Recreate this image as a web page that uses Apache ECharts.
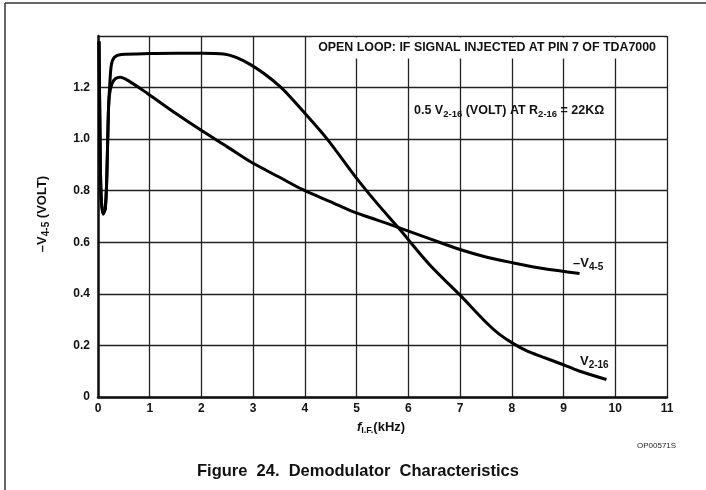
<!DOCTYPE html>
<html>
<head>
<meta charset="utf-8">
<script src="https://cdn.jsdelivr.net/npm/echarts@6/dist/echarts.min.js"></script>
<style>
html,body{margin:0;padding:0;background:#fff;}
#chart{width:706px;height:490px;}
</style>
</head>
<body>
<div id="chart"></div>
<script>
// Data
var xTicks = [0,1,2,3,4,5,6,7,8,9,10,11];
var yTicks = [0,0.2,0.4,0.6,0.8,1.0,1.2,1.4];

var freqV45 = [0.02,0.04,0.06,0.10,0.14,0.17,0.20,0.22,0.27,0.34,0.43,0.60,0.95,1.50,1.98,2.50,2.94,3.50,3.97,4.50,4.94,5.40,5.80,6.42,7.00,7.50,8.03,8.60,9.31];
var v45     = [1.38,1.00,0.78,0.71,0.73,0.85,1.10,1.17,1.215,1.235,1.24,1.225,1.178,1.10,1.036,0.97,0.913,0.853,0.803,0.757,0.718,0.686,0.658,0.613,0.572,0.543,0.520,0.498,0.479];

var freqV216 = [0.02,0.04,0.06,0.10,0.14,0.17,0.20,0.23,0.26,0.32,0.45,1.00,1.50,2.00,2.43,2.94,3.52,3.97,4.42,5.00,5.40,5.80,6.42,7.00,7.50,7.75,8.03,8.30,8.60,8.93,9.30,9.83];
var v216     = [1.38,1.00,0.78,0.71,0.73,0.85,1.10,1.22,1.29,1.318,1.328,1.332,1.333,1.333,1.33,1.29,1.204,1.107,1.003,0.848,0.750,0.658,0.511,0.395,0.290,0.245,0.207,0.178,0.155,0.130,0.101,0.068];

function pairs(xs, ys){ return xs.map(function(x,i){ return [x, ys[i]]; }); }

var FONT = '"Liberation Sans", Arial, Helvetica, sans-serif';
function sub(mainSize, subSize, pad){
  return {
    m: { font: 'bold ' + mainSize + 'px ' + FONT, fill: '#111', lineHeight: 16, verticalAlign: 'top' },
    f: { font: 'italic bold ' + mainSize + 'px ' + FONT, fill: '#111', lineHeight: 16, verticalAlign: 'top' },
    s: { font: 'bold ' + subSize + 'px ' + FONT, fill: '#111', lineHeight: 16, verticalAlign: 'top', padding: [pad,0,0,0] }
  };
}
var chart = echarts.init(document.getElementById('chart'));
var option = {
  backgroundColor: '#fff',
  animation: false,
  grid: { left: 98, right: 39, top: 36, bottom: 93 },
  xAxis: {
    type: 'value', min: 0, max: 11, interval: 1,
    axisLine: { show: true, lineStyle: { color: '#111', width: 2.5 } },
    axisTick: { show: false },
    splitLine: { show: true, lineStyle: { color: '#222', width: 1.3 } },
    axisLabel: { color: '#111', fontFamily: FONT, fontWeight: 'bold', fontSize: 12, margin: 6,
      formatter: function(v){ return String(v); } }
  },
  yAxis: {
    type: 'value', min: 0, max: 1.4, interval: 0.2,
    axisLine: { show: true, lineStyle: { color: '#111', width: 2.5 } },
    axisTick: { show: false },
    splitLine: { show: true, lineStyle: { color: '#222', width: 1.3 } },
    axisLabel: { color: '#111', fontFamily: FONT, fontWeight: 'bold', fontSize: 12, margin: 8,
      formatter: function(v){ if (v > 1.3) return ''; if (v === 0) return '0'; return v.toFixed(1); } }
  },
  series: [
    { name: '-V4-5', type: 'line', data: pairs(freqV45, v45), showSymbol: false, smooth: 0.3,
      lineStyle: { color: '#000', width: 3 }, z: 5 },
    { name: 'V2-16', type: 'line', data: pairs(freqV216, v216), showSymbol: false, smooth: 0.3,
      lineStyle: { color: '#000', width: 3 }, z: 5 }
  ],
  graphic: [
    { type: 'line', shape: { x1: 5, y1: 3, x2: 706, y2: 3 }, style: { stroke: '#333', lineWidth: 1.5 } },
    { type: 'line', shape: { x1: 5, y1: 3, x2: 5, y2: 490 }, style: { stroke: '#333', lineWidth: 1.5 } },
    { type: 'rect', shape: { x: 312, y: 37.5, width: 352, height: 21 }, style: { fill: '#fff' }, z: 9 },
    { type: 'text', x: 656, y: 42, z: 10,
      style: { text: 'OPEN LOOP: IF SIGNAL INJECTED AT PIN 7 OF TDA7000', align: 'right', font: 'bold 12.4px ' + FONT, fill: '#111' } },
    { type: 'text', left: 414, top: 104, z: 10,
      style: { text: '{m|0.5 V}{s|2-16}{m| (VOLT) AT R}{s|2-16}{m| = 22K\u03A9}', rich: sub(12.5, 9.5, 5) } },
    { type: 'text', left: 573, top: 257, z: 10,
      style: { text: '{m|\u2013V}{s|4-5}', rich: sub(13, 10, 5) } },
    { type: 'text', left: 580, top: 355, z: 10,
      style: { text: '{m|V}{s|2-16}', rich: sub(13, 10, 5) } },
    { type: 'text', x: 44, y: 214, rotation: Math.PI / 2, z: 10,
      style: { text: '{m|\u2013V}{s|4-5}{m| (VOLT)}', align: 'center', verticalAlign: 'middle', rich: sub(13, 10, 5) } },
    { type: 'text', left: 357, top: 421, z: 10,
      style: { text: '{f|f}{s|I.F.}{m|(kHz)}', rich: sub(13, 9, 5) } },
    { type: 'text', left: 637, top: 442, z: 10,
      style: { text: 'OP00571S', font: '8px ' + FONT, fill: '#222' } },
    { type: 'text', left: 197, top: 463, z: 10,
      style: { text: 'Figure  24.  Demodulator  Characteristics', font: 'bold 16.5px ' + FONT, fill: '#111' } }
  ]
};
chart.setOption(option);
</script>
</body>
</html>
